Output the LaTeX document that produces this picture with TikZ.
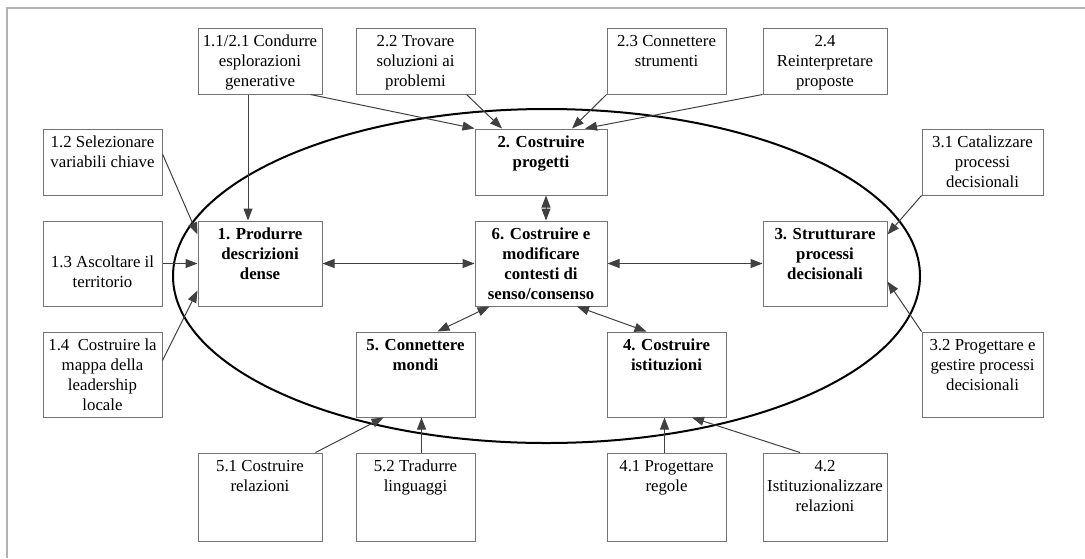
\documentclass[tikz,border=0pt]{standalone}
\usepackage{fontspec}
\setmainfont{Liberation Serif}
\usepackage{tikz}
\usetikzlibrary{arrows.meta}
\newcommand{\boxfont}{\fontsize{8.4}{10}\selectfont}
\tikzset{every edge/.style={draw, black!75}}
\tikzset{
  box/.style={draw=black!55, fill=white, inner sep=0pt, minimum width=59.5pt},
  wide/.style={minimum width=62pt},
  wider/.style={minimum width=66pt},
  side/.style={minimum width=60.5pt},
  short/.style={minimum height=33pt},
  mid/.style={minimum height=42.5pt},
  tall/.style={minimum height=44pt},
  txt/.style={anchor=north, align=center, inner sep=3.5pt, font=\boxfont},
  main/.style={font=\boxfont\bfseries},
}

\begin{document}
\begin{tikzpicture}[x=0.5pt, y=-0.5pt, line width=0.5pt, >={Triangle[length=6pt, width=4.5pt]}]
    \path[use as bounding box] (0, 0) rectangle (1085, 558);
    \draw[black!30, line width=1pt] (7, 558) -- (7, 8) -- (1085, 8);
    \draw[line width=1pt] (546.5, 276) ellipse [x radius=186.75pt, y radius=83.5pt];

    % row 1
    \node[box, wide, short, label={[txt]north:{1.1/2.1 Condurre\\esplorazioni\\generative}}] at (260, 61) (c11) {};
    \node[box, short, label={[txt]north:{2.2 Trovare\\soluzioni ai\\problemi}}] at (415.5, 61) (c22) {};
    \node[box, short, label={[txt]north:{2.3 Connettere\\strumenti}}] at (666.5, 61) (c23) {};
    \node[box, wide, short, label={[txt]north:{2.4\\Reinterpretare\\proposte}}] at (825, 61) (c24) {};

    % row 2
    \node[box, short, label={[txt]north:{1.2 Selezionare\\variabili chiave}}] at (102.5, 162) (c12) {};
    \node[box, wider, short, label={[txt, main]north:{2. Costruire\\progetti}}] at (541, 162) (p2) {};
    \node[box, side, short, label={[txt]north:{3.1 Catalizzare\\processi\\decisionali}}] at (982.5, 162) (c31) {};

    % row 3
    \node[box, mid, label={[txt, yshift=-14pt]north:{1.3 Ascoltare il\\territorio}}] at (102.5, 263.5) (c13) {};
    \node[box, wide, mid, label={[txt, main]north:{1. Produrre\\descrizioni\\dense}}] at (260, 263.5) (p1) {};
    \node[box, wider, mid, label={[txt, main]north:{6. Costruire e\\modificare\\contesti di\\senso/consenso}}] at (541, 263.5) (p6) {};
    \node[box, wide, mid, label={[txt, main]north:{3. Strutturare\\processi\\decisionali}}] at (825, 263.5) (p3) {};

    % row 4
    \node[box, mid, label={[txt]north:{1.4~~Costruire la\\mappa della\\leadership\\locale}}] at (102.5, 374.5) (c14) {};
    \node[box, mid, label={[txt, main]north:{5. Connettere\\mondi}}] at (415.5, 374.5) (p5) {};
    \node[box, mid, label={[txt, main]north:{4. Costruire\\istituzioni}}] at (666.5, 374.5) (p4) {};
    \node[box, side, mid, label={[txt]north:{3.2 Progettare e\\gestire processi\\decisionali}}] at (982.5, 374.5) (c32) {};

    % row 5
    \node[box, wide, tall, label={[txt]north:{5.1 Costruire\\relazioni}}] at (260, 497) (c51) {};
    \node[box, tall, label={[txt]north:{5.2 Tradurre\\linguaggi}}] at (415.5, 497) (c52) {};
    \node[box, tall, label={[txt]north:{4.1 Progettare\\regole}}] at (666.5, 497) (c41) {};
    \node[box, wide, tall, label={[txt]north:{4.2\\Istituzionalizzare\\relazioni}}] at (825, 497) (c42) {};

    \draw ([xshift=-6pt]c11.south) edge[->] ([xshift=-6pt]p1.north);
    \draw ([xshift=-6pt]c11.south east) edge[->] (p2.north west);
    \draw ([xshift=-4.5pt]c22.south east) edge[->] ([xshift=-19.5pt]p2.north);
    \draw (c23.south west) edge[->] ([xshift=15.5pt]p2.north);
    \draw (c24.south west) edge[->] ([xshift=22pt]p2.north);

    \draw ([yshift=4pt]c12.east) edge[->] ([yshift=-7pt]p1.north west);
    \draw (c13.east) edge[->] (p1.west);
    \draw ([yshift=7pt]c14.east) edge[->] ([yshift=8pt]p1.south west);

    \draw (p1.east) edge[<->] (p6.west);
    \draw ([xshift=2.5pt]p2.south) edge[<->] ([xshift=2.5pt]p6.north);
    \draw (p6.east) edge[<->] (p3.west);
    \draw ([xshift=7.5pt]p6.south west) edge[<->] ([xshift=11pt]p5.north);
    \draw ([xshift=18pt]p6.south) edge[<->] ([xshift=-10pt]p4.north);

    \draw (c31.south west) edge[->] ([yshift=-7pt]p3.north east);
    \draw (c32.north west) edge[->] ([yshift=12.5pt]p3.south east);

    \draw ([xshift=-3.5pt]c51.north east) edge[->] ([xshift=-16pt]p5.south);
    \draw ([xshift=3pt]c52.north) edge[->] ([xshift=3pt]p5.south);
    \draw ([xshift=-1pt]c41.north) edge[->] ([xshift=-1pt]p4.south);
    \draw ([xshift=-12.5pt]c42.north) edge[->] ([xshift=12.75pt]p4.south);
\end{tikzpicture}
\end{document}
